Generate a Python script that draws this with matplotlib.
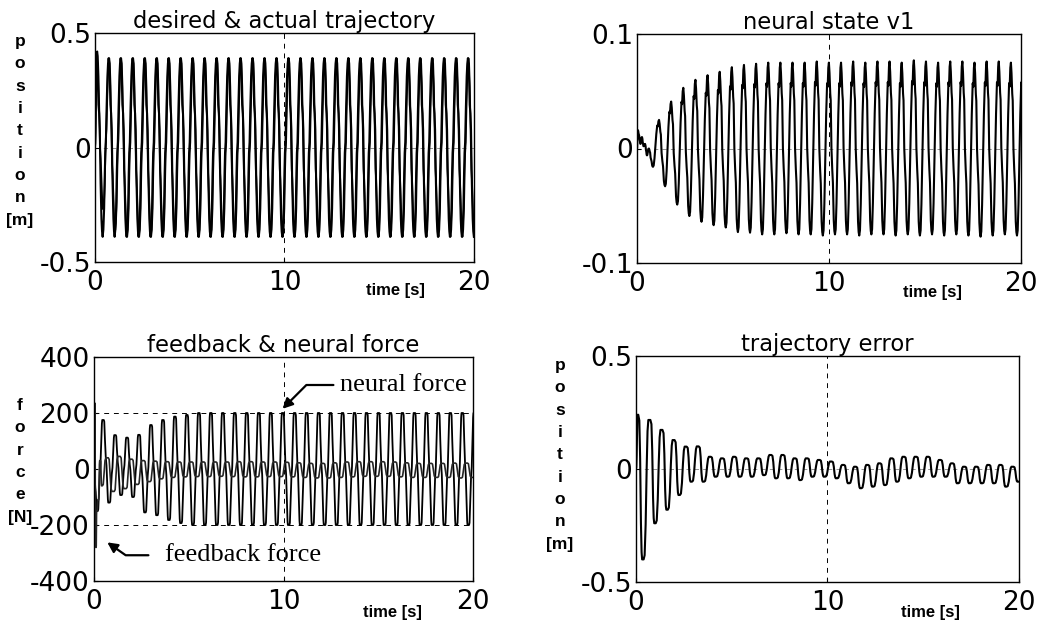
import numpy as np
import matplotlib
matplotlib.use("Agg")
import matplotlib.pyplot as plt

# ---------------- data ----------------
T = 0.632                      # oscillation period [s]
n_cyc = 32

# top-left: desired & actual trajectory (per-cycle extremes)
des_hi = [0.39] * n_cyc
des_lo = [-0.39] * n_cyc
act_hi = [0.42] + [0.39] * (n_cyc - 1)
act_lo = [-0.27, -0.36] + [-0.39] * (n_cyc - 2)

# top-right: neural state v1
v1_early_t = [0.0, 0.05, 0.10, 0.18, 0.26, 0.34, 0.42, 0.52, 0.62]
v1_early_v = [0.0, 0.016, 0.012, 0.004, 0.010, 0.002, 0.004, -0.006, 0.0]
v1_hi = [0.025, 0.041, 0.053, 0.060, 0.064, 0.067, 0.071, 0.073, 0.074, 0.075,
         0.075, 0.075, 0.075, 0.076, 0.075, 0.075, 0.076, 0.075, 0.076, 0.076,
         0.075, 0.077, 0.076, 0.075, 0.076, 0.076, 0.075, 0.076, 0.076, 0.075, 0.076]
v1_lo = [-0.016, -0.033, -0.049, -0.059, -0.064, -0.067, -0.069, -0.073, -0.0735, -0.075,
         -0.075, -0.074, -0.075, -0.075, -0.076, -0.075, -0.075, -0.076, -0.075, -0.075,
         -0.076, -0.075, -0.076, -0.075, -0.076, -0.075, -0.076, -0.077, -0.076, -0.075, -0.076]

# bottom-left: neural force and feedback force [N]
nf_hi = [175, 121, 112, 122, 157, 175, 187, 193, 200, 200, 200, 200, 200, 200, 200, 200,
         200, 200, 200, 200, 200, 200, 200, 200, 200, 200, 200, 200, 200, 200, 200, 200]
nf_lo = [-150, -120, -93, -100, -155, -165, -182, -193, -199, -200, -200, -200, -200, -200,
         -200, -200, -200, -200, -200, -200, -200, -200, -200, -200, -200, -200, -200, -200,
         -200, -200, -200, -200]
fb_early_t = [0.0, 0.05, 0.08, 0.11, 0.16, 0.24, 0.34, 0.44]
fb_early_v = [0.0, 235, -150, -280, -150, -110, 30, -60]
fb_hi = [40, 45, 35, 30, 28, 26, 25, 25, 25, 25, 25, 26, 26, 25, 25, 24, 22, 20, 20, 22,
         25, 26, 26, 26, 25, 22, 20, 20, 20, 21, 21]
fb_lo = [-80, -70, -55, -45, -35, -30, -28, -27, -27, -26, -27, -28, -28, -27, -27, -28,
         -30, -32, -32, -30, -28, -26, -26, -26, -28, -30, -30, -30, -30, -32, -30]

# bottom-right: trajectory error [m]
err_hi = [0.24, 0.217, 0.173, 0.128, 0.099, 0.10, 0.054, 0.047, 0.054, 0.047, 0.047, 0.062,
          0.062, 0.047, 0.047, 0.04, 0.033, 0.018, 0.01, 0.018, 0.025, 0.047, 0.054, 0.054,
          0.054, 0.04, 0.025, 0.01, 0.01, 0.018, 0.018, 0.01]
err_lo = [-0.40, -0.24, -0.18, -0.115, -0.056, -0.056, -0.034, -0.034, -0.034, -0.034,
          -0.027, -0.041, -0.041, -0.049, -0.034, -0.034, -0.041, -0.063, -0.085, -0.078,
          -0.071, -0.056, -0.041, -0.034, -0.034, -0.034, -0.063, -0.063, -0.063, -0.063,
          -0.078, -0.056]

x_ticks = [0, 10, 20]

# ---------------- waveform shapes between extremes (hand-drawn knots) ----------------
def wave(ext_t, ext_v, up, down):
    ts, vs = [ext_t[0]], [ext_v[0]]
    for i in range(len(ext_t) - 1):
        t0, v0, t1, v1 = ext_t[i], ext_v[i], ext_t[i + 1], ext_v[i + 1]
        shp = up if v1 > v0 else down
        for ft, fv in shp[1:]:
            ts.append(t0 + ft * (t1 - t0))
            vs.append(v0 + fv * (v1 - v0))
    return np.array(ts), np.array(vs)

def interleave(t_a, v_a, t_b, v_b):
    t, v = [], []
    for i in range(max(len(t_a), len(t_b))):
        if i < len(t_a):
            t.append(t_a[i]); v.append(v_a[i])
        if i < len(t_b):
            t.append(t_b[i]); v.append(v_b[i])
    return t, v

k = np.arange(n_cyc)
kk = np.arange(1, n_cyc)
H = T / 2

# smooth strokes with a shoulder part-way
up_s = [(0, 0), (0.12, 0.04), (0.25, 0.16), (0.36, 0.36), (0.44, 0.47), (0.54, 0.53),
        (0.66, 0.72), (0.8, 0.9), (0.9, 0.97), (1, 1)]
dn_s1 = [(0, 0), (0.1, 0.03), (0.22, 0.14), (0.3, 0.26), (0.42, 0.31), (0.52, 0.4),
         (0.66, 0.7), (0.8, 0.9), (0.9, 0.97), (1, 1)]
dn_s2 = [(0, 0), (0.1, 0.03), (0.22, 0.16), (0.36, 0.42), (0.48, 0.62), (0.58, 0.68),
         (0.7, 0.8), (0.82, 0.93), (0.92, 0.98), (1, 1)]

t1, v1 = interleave(list(0.09 + T * k), des_hi, list(0.09 + H + T * k), des_lo)
des_t, des_v = wave([0.0] + t1, [0.0] + v1, up_s, dn_s1)
t2, v2 = interleave(list(0.12 + T * k), act_hi, list(0.12 + H + T * k), act_lo)
act_t, act_v = wave([0.0] + t2, [0.0] + v2, up_s, dn_s2)

# neural state v1 (hook at the top)
up_v = [(0, 0), (0.12, 0.03), (0.25, 0.18), (0.4, 0.45), (0.55, 0.7), (0.7, 0.88),
        (0.8, 0.86), (0.9, 0.97), (1, 1)]
dn_v = [(0, 0), (0.1, 0.06), (0.22, 0.18), (0.3, 0.22), (0.42, 0.5), (0.55, 0.62),
        (0.66, 0.7), (0.8, 0.92), (0.9, 0.98), (1, 1)]
t3, v3 = interleave(list(0.2 + T * kk), v1_lo, list(0.2 + H + T * kk), v1_hi)
v1_t, v1_v = wave(v1_early_t + t3, v1_early_v + v3, up_v, dn_v)

# neural force (clipped at +-200)
up_n = [(0, 0), (0.08, 0.02), (0.2, 0.2), (0.33, 0.42), (0.45, 0.52), (0.58, 0.78),
        (0.68, 0.96), (0.74, 1), (1, 1)]
dn_n = [(0, 0), (0.08, 0.02), (0.2, 0.25), (0.33, 0.45), (0.45, 0.55), (0.58, 0.8),
        (0.68, 0.96), (0.74, 1), (1, 1)]
t4, v4 = interleave(list(0.2 + T * k), nf_lo, list(0.2 + H + T * k), nf_hi)
nf_t, nf_v = wave([0.0] + t4, [0.0] + v4, up_n, dn_n)

# feedback force (square-ish)
sq = [(0, 0), (0.15, 0.05), (0.3, 0.5), (0.45, 0.9), (0.6, 1.0), (1, 1)]
t5, v5 = interleave(list(0.12 + T * kk), fb_hi, list(0.12 + H + T * kk), fb_lo)
fb_t, fb_v = wave(fb_early_t + t5, fb_early_v + v5, sq, sq)

# trajectory error
up_e = [(0, 0), (0.15, 0.03), (0.3, 0.25), (0.45, 0.65), (0.58, 0.92), (0.7, 1.0), (1, 1)]
dn_e = [(0, 0), (0.2, 0.04), (0.35, 0.3), (0.5, 0.75), (0.62, 0.95), (0.72, 1.0), (1, 1)]
t6, v6 = interleave(list(0.12 + T * k), err_hi, list(0.40 + T * k), err_lo)
err_t, err_v = wave([0.0] + t6, [0.0] + v6, up_e, dn_e)

# ---------------- figure ----------------
plt.rcParams['font.family'] = ['DejaVu Sans']
fig = plt.figure(figsize=(10.4, 6.25), dpi=100)

boxes = {
    'tl': [0.0913, 0.5808, 0.3644, 0.3664],
    'tr': [0.6125, 0.5792, 0.3692, 0.3664],
    'bl': [0.0904, 0.0704, 0.3644, 0.3584],
    'br': [0.6115, 0.0688, 0.3683, 0.3616],
}
TICK_FS = 19
grid_kw = dict(color='black', lw=0.7, ls=(0, (5, 5)))

def setup(ax, ylim, yticks, yticklabels, title):
    ax.set_xlim(0, 20)
    ax.set_ylim(*ylim)
    ax.set_xticks(x_ticks)
    ax.set_xticklabels([str(x) for x in x_ticks], fontsize=TICK_FS)
    ax.set_yticks(yticks)
    ax.set_yticklabels(yticklabels, fontsize=TICK_FS)
    ax.tick_params(direction='in', length=3, width=0.8)
    ax.tick_params(axis='y', pad=3)
    ax.tick_params(axis='x', pad=6)
    for s in ax.spines.values():
        s.set_linewidth(1.0)
    ax.set_title(title, fontsize=16.3, pad=1)
    ax.axvline(10, **grid_kw, zorder=0)

axes = {}
for key, b in boxes.items():
    axes[key] = fig.add_axes(b)

LW = 1.5
ax = axes['tl']
setup(ax, (-0.5, 0.5), [-0.5, 0, 0.5], ['-0.5', '0', '0.5'], 'desired & actual trajectory')
ax.axhline(0, color='0.5', lw=0.6, ls=(0, (5, 5)), zorder=0)
ax.plot(des_t, des_v, color='black', lw=LW)
ax.plot(act_t, act_v, color='black', lw=LW - 0.2)

ax = axes['tr']
setup(ax, (-0.1, 0.1), [-0.1, 0, 0.1], ['-0.1', '0', '0.1'], 'neural state v1')
ax.axhline(0, color='0.5', lw=0.6, ls=(0, (5, 5)), zorder=0)
ax.plot(v1_t, v1_v, color='black', lw=LW)

ax = axes['bl']
setup(ax, (-400, 400), [-400, -200, 0, 200, 400], ['-400', '-200', '0', '200', '400'],
      'feedback & neural force')
for yy in (-200, 200):
    ax.axhline(yy, **grid_kw, zorder=0)
ax.plot(nf_t, nf_v, color='black', lw=LW - 0.2)
ax.plot(fb_t, fb_v, color='0.15', lw=1.2)

ax = axes['br']
setup(ax, (-0.5, 0.5), [-0.5, 0, 0.5], ['-0.5', '0', '0.5'], 'trajectory error')
ax.axhline(0, color='0.5', lw=0.6, ls=(0, (5, 5)), zorder=0)
ax.plot(err_t, err_v, color='black', lw=LW)

# annotations
ax = axes['bl']
ax.annotate('neural force', xy=(9.95, 215), xytext=(13.0, 300),
            fontsize=19, family='Liberation Serif', va='center', ha='left',
            arrowprops=dict(arrowstyle='-|>', color='black', lw=1.6,
                            connectionstyle='angle,angleA=0,angleB=45,rad=0',
                            shrinkA=3, shrinkB=0, mutation_scale=15))
ax.annotate('feedback force', xy=(0.7, -262), xytext=(3.75, -308),
            fontsize=19, family='Liberation Serif', va='center', ha='left',
            arrowprops=dict(arrowstyle='-|>', color='black', lw=1.6,
                            connectionstyle='angle,angleA=0,angleB=-35,rad=0',
                            shrinkA=10, shrinkB=0, mutation_scale=15))

# stacked y labels and "time [s]"
lab_kw = dict(fontsize=12.5, fontweight='bold', ha='center', va='top', linespacing=1.61,
              family='Liberation Sans')
fig.text(20 / 1040, 1 - 34 / 625, '\n'.join(list('position') + ['[m]']), **lab_kw)
fig.text(20 / 1040, 1 - 398 / 625, '\n'.join(list('force') + ['[N]']), **lab_kw)
fig.text(560 / 1040, 1 - 358 / 625, '\n'.join(list('position') + ['[m]']), **lab_kw)

tkw = dict(fontsize=12, fontweight='bold', ha='center', va='center', family='Liberation Sans')
fig.text(395 / 1040, 1 - 291 / 625, 'time [s]', **tkw)
fig.text(932 / 1040, 1 - 292 / 625, 'time [s]', **tkw)
fig.text(392 / 1040, 1 - 613 / 625, 'time [s]', **tkw)
fig.text(930 / 1040, 1 - 613 / 625, 'time [s]', **tkw)

fig.savefig('out.png', dpi=100)
